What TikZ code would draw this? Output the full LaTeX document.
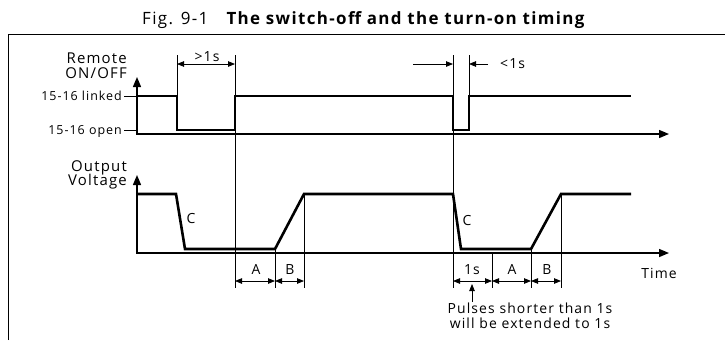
\documentclass[tikz,border=0pt]{standalone}
\usepackage{fontspec}
\setmainfont{Open Sans}[LetterSpace=8]
\usetikzlibrary{arrows.meta}

\tikzset{
  bigtip/.tip={Triangle[length=10bp,width=8bp]},
  smalltip/.tip={Triangle[length=7bp,width=5.5bp]},
  signal/.style={line width=2.6bp},
  axis/.style={line width=1.4bp},
  guide/.style={line width=0.6bp},
  dim/.style={line width=0.8bp},
  lbl/.style={inner sep=0pt, font=\fontsize{14}{16}\selectfont},
  axisname/.style={lbl, font=\fontsize{15}{17}\selectfont},
  level/.style={lbl, font=\fontsize{12.5}{15}\selectfont},
}

\begin{document}
\begin{tikzpicture}[x=1bp,y=-1bp]
\useasboundingbox (0,0) rectangle (725,340);

\node [lbl, anchor=base, font=\fontsize{17}{20}\selectfont] (title) at (364,24.5) {Fig. 9-1\quad\textbf{The switch-off and the turn-on timing}};
\draw [line width=1bp] (8,340) -- (8,34) -- (725,34);

\coordinate (t1) at (177,0);
\coordinate (t2) at (235,0);
\coordinate (t3) at (275,0);
\coordinate (t4) at (304,0);
\coordinate (t5) at (453,0);
\coordinate (t6) at (469,0);
\coordinate (t7) at (492,0);
\coordinate (t8) at (531,0);
\coordinate (t9) at (561,0);

\node [axisname, anchor=base east] (remote) at (127,63) {Remote};
\node [axisname, anchor=base east] (onoff) at (127,78) {ON/OFF};
\node [level, anchor=base east] (linked) at (122,100) {15-16 linked};
\node [level, anchor=base east] (open) at (122,134) {15-16 open};
\node [axisname, anchor=base east] (output) at (127,171) {Output};
\node [axisname, anchor=base east] (voltage) at (127,185) {Voltage};

\draw [axis, bigtip-bigtip] (137,77) -- (137,134) -- (669,134);
\draw [axis, bigtip-bigtip] (137,175) -- (137,253) -- (669,253);
\draw [guide] (124,96) -- (137,96);
\draw [guide] (124,130) -- (137,130);

\draw [signal] (137,96) -- (t1 |- 0,96) -- (t1 |- 0,130) -- (t2 |- 0,130) -- (t2 |- 0,96)
  -- (t5 |- 0,96) -- (t5 |- 0,130) -- (t6 |- 0,130) -- (t6 |- 0,96) -- (631,96);
\draw [signal] (137,194) -- (176,194) -- (185,249) -- (t3 |- 0,249) -- (t4 |- 0,194)
  -- (t5 |- 0,194) -- (461,249) -- (t8 |- 0,249) -- (t9 |- 0,194) -- (631,194);

\draw [guide] (t1 |- 0,55) -- (t1 |- 0,96);
\draw [guide] (t2 |- 0,55) -- (t2 |- 0,288);
\draw [guide] (t5 |- 0,55) -- (t5 |- 0,288);
\draw [guide] (t6 |- 0,55) -- (t6 |- 0,96);
\draw [guide] (t3 |- 0,249) -- (t3 |- 0,288);
\draw [guide] (t4 |- 0,194) -- (t4 |- 0,288);
\draw [guide] (t7 |- 0,253) -- (t7 |- 0,288);
\draw [guide] (t8 |- 0,249) -- (t8 |- 0,288);
\draw [guide] (t9 |- 0,194) -- (t9 |- 0,288);

\draw [dim, smalltip-smalltip] (t1 |- 0,64) -- (t2 |- 0,64);
\node [lbl, anchor=base] (more) at (207,61) {>1s};
\draw [dim, -smalltip] (413,64) -- (t5 |- 0,64);
\draw [dim, -smalltip] (488,64) -- (t6 |- 0,64);
\node [lbl, anchor=base west] (less) at (500,68) {<1s};

\node [lbl, anchor=base] (c1) at (191,223) {C};
\node [lbl, anchor=base] (c2) at (467,225) {C};
\node [lbl, anchor=base] (time) at (659,278) {Time};

\draw [dim, smalltip-smalltip] (t2 |- 0,281) -- (t3 |- 0,281);
\draw [dim, smalltip-smalltip] (t3 |- 0,281) -- (t4 |- 0,281);
\draw [dim, smalltip-smalltip] (t5 |- 0,281) -- (t7 |- 0,281);
\draw [dim, smalltip-smalltip] (t7 |- 0,281) -- (t8 |- 0,281);
\draw [dim, smalltip-smalltip] (t8 |- 0,281) -- (t9 |- 0,281);
\node [lbl, anchor=base] (a1) at (256,274) {A};
\node [lbl, anchor=base] (b1) at (290,274) {B};
\node [lbl, anchor=base] (sec) at (472,274) {1s};
\node [lbl, anchor=base] (a2) at (512,274) {A};
\node [lbl, anchor=base] (b2) at (547,274) {B};

\node [lbl, anchor=base] (note1) at (530,313) {Pulses shorter than 1s};
\node [lbl, anchor=base] (note2) at (530,328) {will be extended to 1s};
\draw [dim, -smalltip] (note1.north -| sec) -- (sec |- 0,284);
\end{tikzpicture}
\end{document}
